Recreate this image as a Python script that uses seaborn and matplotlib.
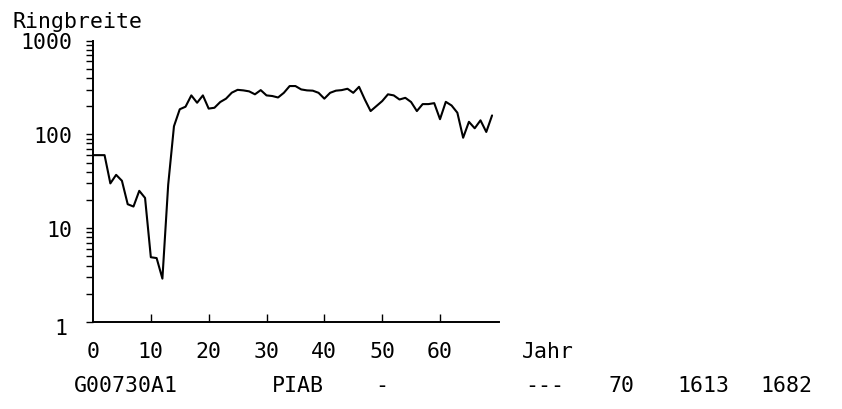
import numpy as np
import pandas as pd
import matplotlib
matplotlib.use("Agg")
import matplotlib.pyplot as plt
import matplotlib.transforms as mtransforms
import seaborn as sns
from matplotlib.ticker import LogLocator, NullFormatter, FixedLocator

# Ring widths per year (first year = 0)
ring_width = [
    60, 60, 60, 30, 37, 32, 18, 17, 25, 21,
    4.9, 4.8, 2.9, 29, 122, 185, 197, 260, 217, 260,
    188, 192, 221, 240, 278, 298, 294, 287, 267, 296,
    260, 256, 247, 277, 327, 327, 301, 294, 292, 277,
    240, 277, 292, 296, 306, 277, 321, 235, 177, 200,
    226, 267, 260, 235, 245, 221, 177, 210, 210, 215,
    145, 222, 203, 170, 92, 136, 116, 141, 106, 159,
]
years = list(range(len(ring_width)))

y_ticks = [1, 10, 100, 1000]
y_tick_labels = ["1", "10", "100", "1000"]
x_ticks = [10, 20, 30, 40, 50, 60]
x_tick_labels = ["0", "10", "20", "30", "40", "50", "60"]

header = ["G00730A1", "PIAB", "-", "---", "70", "1613", "1682"]

df = pd.DataFrame({"Jahr": years, "Ringbreite": ring_width})

sns.set_theme(style="white")
plt.rcParams["font.family"] = ["DejaVu Sans Mono", "DejaVu Sans"]

W, H = 842, 410
fig = plt.figure(figsize=(W / 100, H / 100), dpi=100)
fig.patch.set_facecolor("white")

x0, x1, ytop, ybot = 93, 499, 41.5, 323
ax = fig.add_axes([x0 / W, 1 - ybot / H, (x1 - x0) / W, (ybot - ytop) / H])
ax.set_facecolor("white")

sns.lineplot(data=df, x="Jahr", y="Ringbreite", ax=ax, color="black",
             linewidth=1.5, legend=False)

ax.set_yscale("log")
ax.set_ylim(1, 1000)
ax.set_xlim(0, 70.2)

for side in ("top", "right"):
    ax.spines[side].set_visible(False)
for side in ("left", "bottom"):
    ax.spines[side].set_color("black")
    ax.spines[side].set_linewidth(1.4)

fs = 15.5
ax.yaxis.set_major_locator(FixedLocator(y_ticks))
ax.set_yticklabels(y_tick_labels, fontsize=fs)
ax.yaxis.set_minor_locator(LogLocator(base=10, subs=np.arange(2, 10)))
ax.yaxis.set_minor_formatter(NullFormatter())
ax.tick_params(axis="y", which="both", direction="out", length=5.2,
               width=1.0, color="black", labelcolor="black", pad=10, left=True)

ax.xaxis.set_major_locator(FixedLocator([0] + x_ticks))
ax.set_xticklabels(x_tick_labels, fontsize=fs)
ax.tick_params(axis="x", which="major", direction="in", length=6,
               width=1.0, color="black", labelcolor="black", pad=14, bottom=True)
ax.xaxis.get_major_ticks()[0].tick1line.set_visible(False)

# the "1" label sits a little lower and further left than the others
one_label = ax.get_yticklabels()[0]
one_label.set_transform(one_label.get_transform() +
                        mtransforms.ScaledTranslation(-5 / 100, -4 / 100,
                                                      fig.dpi_scale_trans))

ax.set_xlabel("")
ax.set_ylabel("")
ax.grid(False)


def put(text, px, py):
    fig.text(px / W, 1 - py / H, text, fontsize=fs, ha="left",
             va="baseline", color="black")


put("Ringbreite", 12, 28)
put("Jahr", 522, 358)

bottom_x = [74, 272, 375, 525, 608, 677, 760]
for label, bx in zip(header, bottom_x):
    put(label, bx, 392)

fig.savefig("out.png", dpi=100, facecolor="white")
